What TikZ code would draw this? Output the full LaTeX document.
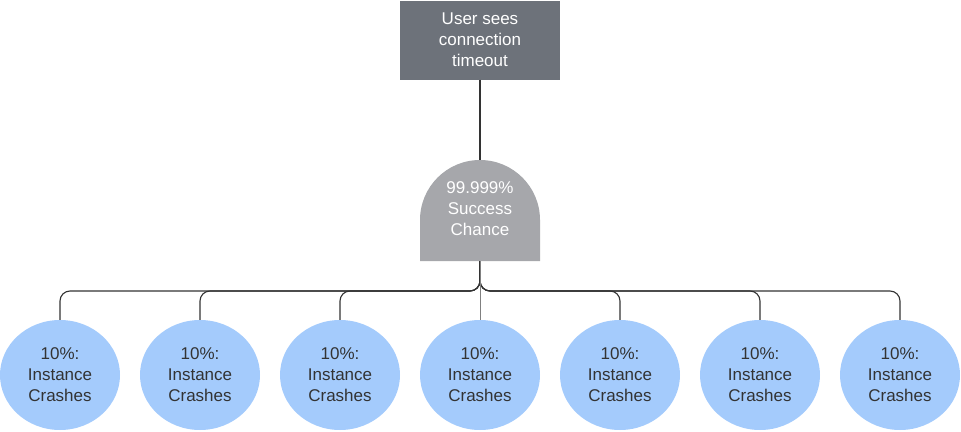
\documentclass[tikz,border=0pt]{standalone}
\usepackage{fontspec}
\setmainfont{Liberation Sans}
\usetikzlibrary{shapes.geometric}
\definecolor{topgray}{HTML}{6D727A}
\definecolor{gategray}{HTML}{A6A7AB}
\definecolor{leafblue}{HTML}{A4CBFC}
\definecolor{inkdark}{HTML}{333333}
\tikzset{
  topbox/.style={fill=topgray, text=white, minimum width=160, minimum height=79, inner sep=0, align=center},
  gatelabel/.style={text=white, inner sep=0, align=center},
  leaf/.style={ellipse, fill=leafblue, text=inkdark, minimum width=120, minimum height=110, inner sep=0, align=center},
  link/.style={draw=inkdark, line width=1.1, rounded corners=10}
}
\begin{document}
\begin{tikzpicture}[x=1pt, y=-1pt, font=\fontsize{17}{21}\selectfont, line join=round]
\useasboundingbox (0,0) rectangle (961,431);
% top event
\node[topbox] (top) at (480,40) {User sees\\connection\\timeout};
% AND gate
\fill[gategray] (420,261) -- (420,220) arc (180:360:60) -- (540,261) -- cycle;
\coordinate (gtop) at (480,160);
\coordinate (gbot) at (480,261);
\node[gatelabel] (gate) at (480,209) {99.999\%\\Success\\Chance};
\draw[link] (top.south) -- (gtop);
% basic events
\foreach \i in {1,...,7}{
  \node[leaf] (c\i) at ({60+140*(\i-1)},375) {10\%:\\Instance\\Crashes};
}
\foreach \i in {1,2,3,5,6,7}{
  \draw[link] (gbot) -- ++(0,30) -| (c\i.north);
}
\draw[draw=gray, line width=0.9] (gbot) -- (c4.north);
\end{tikzpicture}
\end{document}
